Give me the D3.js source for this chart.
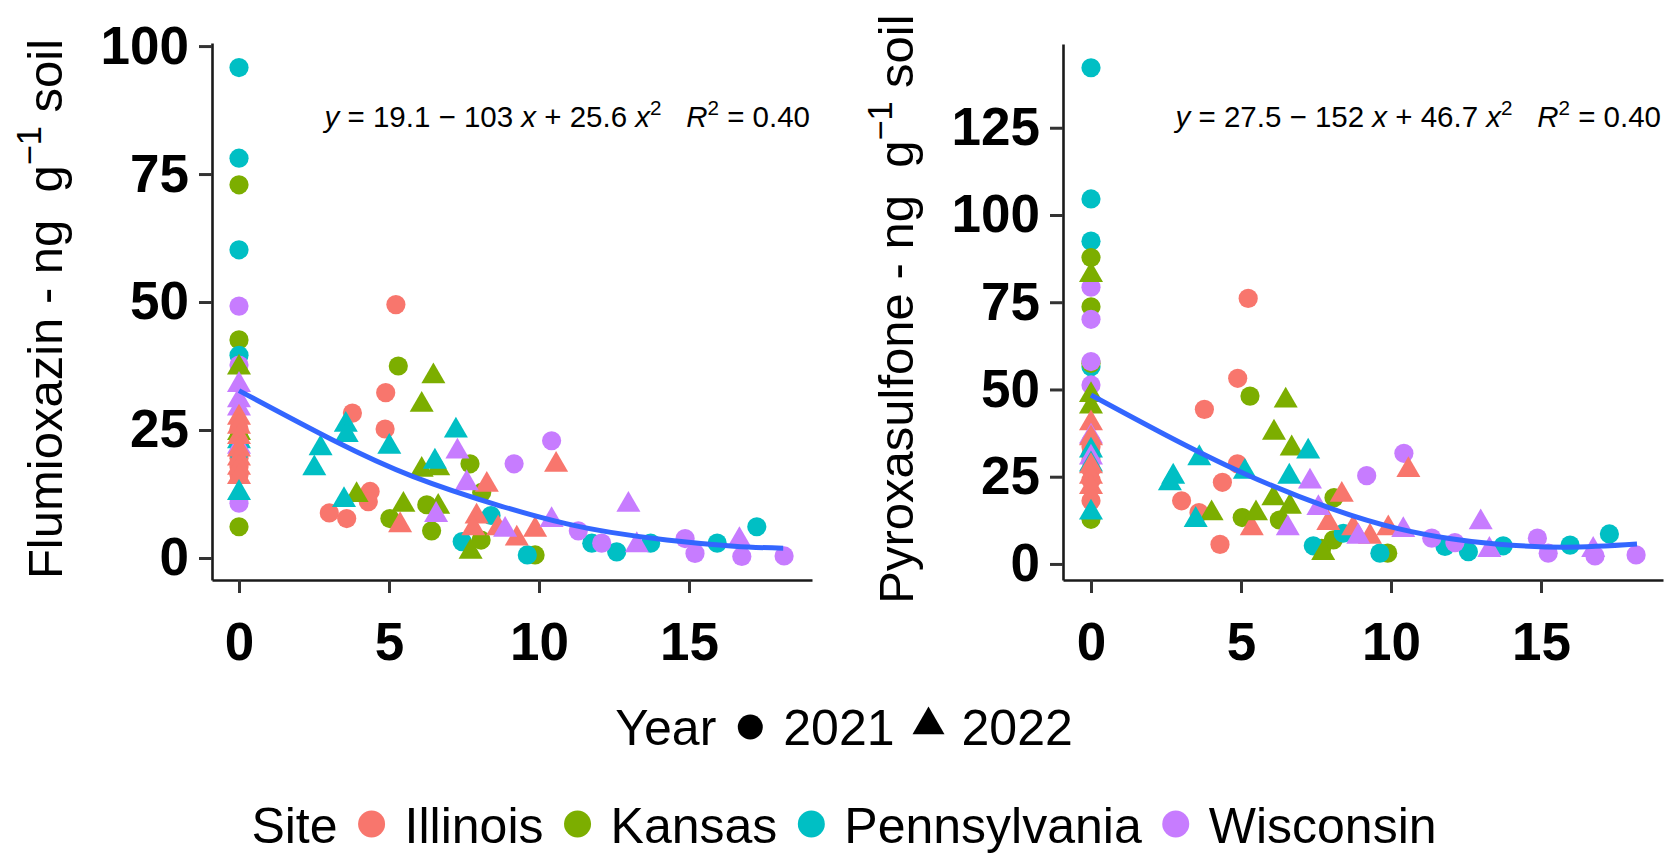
<!DOCTYPE html>
<html>
<head>
<meta charset="utf-8">
<script src="https://cdn.jsdelivr.net/npm/d3@7"></script>
<style>
  body { margin: 0; background: #fff; }
  text { font-family: "Liberation Sans", Arial, Helvetica, sans-serif; }
</style>
</head>
<body>
<svg id="chart" width="1669" height="855"></svg>
<script>
var sites = ["Illinois", "Kansas", "Pennsylvania", "Wisconsin"];
var siteColors = ["#F8766D", "#7CAE00", "#00BFC4", "#C77CFF"];
var years = ["2021", "2022"];
var xTicks = [0, 5, 10, 15];
var flumTicks = [0, 25, 50, 75, 100];
var pyroTicks = [0, 25, 50, 75, 100, 125];

// [site, year, years after application, ng/g]
var flumPoints = [
  ["Pennsylvania",2021,0,95.8],["Pennsylvania",2021,0,78.1],["Kansas",2021,0,72.9],["Pennsylvania",2021,0,60.2],
  ["Wisconsin",2021,0,49.2],["Kansas",2021,0,42.6],["Pennsylvania",2021,0,39.6],["Kansas",2021,0,23.5],
  ["Illinois",2021,0,25.2],["Illinois",2021,0,22.0],["Illinois",2021,0,19.5],["Illinois",2021,0,17.8],
  ["Illinois",2021,0,16.2],["Pennsylvania",2021,0,20.5],["Wisconsin",2021,0,10.7],["Kansas",2021,0,6.1],
  ["Kansas",2022,0,37.2],["Wisconsin",2022,0,33.8],["Wisconsin",2022,0,30.8],["Wisconsin",2022,0,29.2],
  ["Kansas",2022,0,24.4],["Pennsylvania",2022,0,22.8],["Wisconsin",2022,0,21.7],["Illinois",2022,0,27.4],
  ["Illinois",2022,0,25.6],["Illinois",2022,0,23.6],["Illinois",2022,0,21.2],["Illinois",2022,0,19.4],
  ["Illinois",2022,0,17.6],["Illinois",2022,0,15.8],["Pennsylvania",2022,0,12.7],["Wisconsin",2021,0,37.7],
  ["Illinois",2021,5.23,49.5],["Illinois",2021,4.89,32.3],["Illinois",2021,3.78,28.3],["Illinois",2021,4.87,25.2],
  ["Illinois",2021,4.37,13.0],["Illinois",2021,4.31,11.0],["Illinois",2021,3.01,8.8],["Illinois",2021,3.59,7.7],
  ["Illinois",2022,10.57,18.2],["Illinois",2022,8.26,14.3],["Illinois",2022,5.37,6.4],["Illinois",2022,7.92,8.1],
  ["Illinois",2022,7.81,5.8],["Illinois",2022,8.64,5.8],["Illinois",2022,9.26,3.8],["Illinois",2022,9.87,5.5],
  ["Kansas",2021,5.31,37.5],["Kansas",2021,7.7,18.4],["Kansas",2021,8.09,12.8],["Kansas",2021,5.03,7.7],
  ["Kansas",2021,6.26,10.4],["Kansas",2021,6.42,5.3],["Kansas",2021,8.07,3.5],["Kansas",2021,9.87,0.6],
  ["Kansas",2022,6.48,35.5],["Kansas",2022,6.09,29.9],["Kansas",2022,6.09,17.2],["Kansas",2022,6.64,17.5],
  ["Kansas",2022,3.92,12.3],["Kansas",2022,5.48,10.4],["Kansas",2022,6.64,10.0],["Kansas",2022,7.72,1.2],
  ["Pennsylvania",2021,8.4,8.3],["Pennsylvania",2021,7.44,3.2],["Pennsylvania",2021,9.61,0.6],["Pennsylvania",2021,11.76,2.9],
  ["Pennsylvania",2021,12.59,1.2],["Pennsylvania",2021,13.72,2.9],["Pennsylvania",2021,15.94,2.9],["Pennsylvania",2021,17.26,6.1],
  ["Pennsylvania",2022,7.23,24.9],["Pennsylvania",2022,3.56,26.0],["Pennsylvania",2022,3.59,24.0],["Pennsylvania",2022,5.01,21.7],
  ["Pennsylvania",2022,2.72,21.4],["Pennsylvania",2022,2.51,17.5],["Pennsylvania",2022,6.53,18.8],["Pennsylvania",2022,3.5,11.3],
  ["Wisconsin",2021,10.42,22.9],["Wisconsin",2021,9.17,18.4],["Wisconsin",2021,11.31,5.3],["Wisconsin",2021,12.09,2.9],
  ["Wisconsin",2021,14.87,3.8],["Wisconsin",2021,15.2,0.9],["Wisconsin",2021,16.76,0.3],["Wisconsin",2021,18.17,0.4],
  ["Wisconsin",2022,7.28,20.8],["Wisconsin",2022,7.59,14.6],["Wisconsin",2022,6.57,8.4],["Wisconsin",2022,8.87,5.5],
  ["Wisconsin",2022,10.42,7.4],["Wisconsin",2022,12.98,10.4],["Wisconsin",2022,13.26,2.5],["Wisconsin",2022,16.68,3.5]
];

var pyroPoints = [
  ["Pennsylvania",2021,0,142.2],["Pennsylvania",2021,0,104.6],["Pennsylvania",2021,0,92.5],["Kansas",2021,0,87.8],
  ["Kansas",2022,0,82.8],["Wisconsin",2021,0,79.3],["Kansas",2021,0,73.7],["Wisconsin",2021,0,70.1],
  ["Pennsylvania",2021,0,56.5],["Kansas",2021,0,57.5],["Wisconsin",2021,0,58.0],["Wisconsin",2021,0,51.3],
  ["Kansas",2022,0,48.4],["Kansas",2022,0,45.1],["Illinois",2022,0,40.3],["Wisconsin",2022,0,36.5],
  ["Illinois",2022,0,36.0],["Wisconsin",2021,0,35.0],["Illinois",2021,0,33.6],["Pennsylvania",2022,0,32.5],
  ["Illinois",2021,0,31.5],["Pennsylvania",2021,0,31.0],["Wisconsin",2022,0,30.5],["Illinois",2021,0,29.8],
  ["Pennsylvania",2022,0,28.5],["Illinois",2022,0,28.0],["Illinois",2021,0,27.0],["Illinois",2022,0,25.0],
  ["Illinois",2021,0,24.0],["Illinois",2022,0,22.0],["Illinois",2021,0,18.1],["Pennsylvania",2022,0,14.7],
  ["Kansas",2021,0,12.8],
  ["Illinois",2021,5.24,76.1],["Illinois",2021,4.89,53.2],["Illinois",2021,3.78,44.3],["Illinois",2021,4.88,28.7],
  ["Illinois",2021,4.38,23.4],["Illinois",2021,3.02,18.1],["Illinois",2021,3.6,14.7],["Illinois",2021,4.3,5.6],
  ["Illinois",2022,10.58,26.9],["Illinois",2022,8.36,19.8],["Illinois",2022,5.36,10.2],["Illinois",2022,7.91,11.7],
  ["Illinois",2022,8.74,10.2],["Illinois",2022,9.3,7.8],["Illinois",2022,9.91,10.2],
  ["Kansas",2021,5.3,48.1],["Kansas",2021,8.1,19.0],["Kansas",2021,5.04,13.3],["Kansas",2021,6.28,12.6],
  ["Kansas",2021,8.08,6.9],["Kansas",2021,7.69,4.5],["Kansas",2021,9.89,3.1],
  ["Kansas",2022,6.49,46.8],["Kansas",2022,6.1,37.6],["Kansas",2022,6.69,33.1],["Kansas",2022,6.08,18.8],
  ["Kansas",2022,6.63,16.4],["Kansas",2022,4.02,14.5],["Kansas",2022,5.5,14.5],["Kansas",2022,7.74,3.1],
  ["Pennsylvania",2021,8.41,8.8],["Pennsylvania",2021,7.41,5.2],["Pennsylvania",2021,9.63,3.1],["Pennsylvania",2021,11.8,5.0],
  ["Pennsylvania",2021,12.58,3.5],["Pennsylvania",2021,13.74,5.2],["Pennsylvania",2021,15.97,5.4],["Pennsylvania",2021,17.28,8.6],
  ["Pennsylvania",2022,7.24,32.2],["Pennsylvania",2022,3.61,30.3],["Pennsylvania",2022,5.13,26.4],["Pennsylvania",2022,2.74,25.0],
  ["Pennsylvania",2022,6.61,25.0],["Pennsylvania",2022,2.63,23.1],["Pennsylvania",2022,3.49,12.6],
  ["Wisconsin",2021,10.43,31.7],["Wisconsin",2021,9.19,25.3],["Wisconsin",2021,11.36,7.4],["Wisconsin",2021,12.13,6.1],
  ["Wisconsin",2021,14.88,7.4],["Wisconsin",2021,15.24,3.1],["Wisconsin",2021,16.8,2.3],["Wisconsin",2021,18.17,2.6],
  ["Wisconsin",2022,7.3,23.6],["Wisconsin",2022,7.58,16.0],["Wisconsin",2022,6.56,10.2],["Wisconsin",2022,8.91,7.8],
  ["Wisconsin",2022,10.41,9.7],["Wisconsin",2022,12.99,11.9],["Wisconsin",2022,13.28,4.0],["Wisconsin",2022,16.74,4.0]
];

// fitted curve
var flumFit = [[0,32.7],[3.14,23.0],[5.81,15.9],[8.7,10.2],[10.9,6.7],[12.4,5.0],[14.26,3.5],[16.5,2.3],[18.14,1.9]];
var pyroFit = [[0,48.4],[2.41,37.3],[5.08,26.0],[7.97,16.0],[10.2,10.2],[12.0,7.2],[13.5,5.7],[15.8,4.8],[18.2,5.7]];

var flumEq = [["y",1],[" = 19.1 \u2212 103 ",0],["x",1],[" + 25.6 ",0],["x",1],["2",2],["   ",0],["R",1],["2",2],[" = 0.40",0]];
var pyroEq = [["y",1],[" = 27.5 \u2212 152 ",0],["x",1],[" + 46.7 ",0],["x",1],["2",2],["   ",0],["R",1],["2",2],[" = 0.40",0]];

var svg = d3.select("#chart");
var color = d3.scaleOrdinal().domain(sites).range(siteColors);

// rich text with italics (1) and superscripts (2)
function richText(sel, parts, size) {
  var raised = false;
  parts.forEach(function(p) {
    var ts = sel.append("tspan").text(p[0]);
    if (p[1] === 1) ts.attr("font-style", "italic");
    if (p[1] === 2) {
      ts.attr("font-size", size * 0.7).attr("dy", -size * 0.42);
      raised = true;
    } else if (raised) {
      ts.attr("dy", size * 0.42);
      raised = false;
    }
  });
}

function drawPanel(opts) {
  var x = d3.scaleLinear().domain(opts.xDomain).range(opts.xRange);
  var y = d3.scaleLinear().domain(opts.yDomain).range([580, opts.top]);
  var g = svg.append("g");

  var xAxis = g.append("g").attr("transform", "translate(0,580)")
    .call(d3.axisBottom(x).tickValues(xTicks).tickSize(13).tickSizeOuter(0).tickPadding(29));
  var yAxis = g.append("g").attr("transform", "translate(" + opts.xRange[0] + ",0)")
    .call(d3.axisLeft(y).tickValues(opts.yTicks).tickSize(13).tickSizeOuter(0).tickPadding(10));

  [xAxis, yAxis].forEach(function(a) {
    a.select(".domain").attr("stroke", "#1a1a1a").attr("stroke-width", 2.6);
    a.selectAll(".tick line").attr("stroke", "#333").attr("stroke-width", 3);
    a.selectAll(".tick text").attr("fill", "#000").attr("font-size", 53).attr("font-weight", "bold")
      .attr("font-family", "'Liberation Sans', Arial, sans-serif");
  });

  var pts = g.append("g");
  pts.selectAll("circle").data(opts.points.filter(function(d) { return d[1] === 2021; }))
    .enter().append("circle")
    .attr("cx", function(d) { return x(d[2]); })
    .attr("cy", function(d) { return y(d[3]); })
    .attr("r", 9.6)
    .attr("fill", function(d) { return color(d[0]); });
  pts.selectAll("path").data(opts.points.filter(function(d) { return d[1] === 2022; }))
    .enter().append("path")
    .attr("d", d3.symbol(d3.symbolTriangle, 250))
    .attr("transform", function(d) { return "translate(" + x(d[2]) + "," + y(d[3]) + ")"; })
    .attr("fill", function(d) { return color(d[0]); });

  g.append("path").datum(opts.fit)
    .attr("fill", "none").attr("stroke", "#3366FF").attr("stroke-width", 5)
    .attr("d", d3.line().curve(d3.curveNatural)
      .x(function(d) { return x(d[0]); })
      .y(function(d) { return y(d[1]); }));

  var eq = g.append("text").attr("x", opts.xRange[1] - 2).attr("y", opts.eqY)
    .attr("text-anchor", "end").attr("font-size", 29.5).attr("fill", "#000")
    .attr("xml:space", "preserve").style("white-space", "pre");
  richText(eq, opts.eq, 29.5);

  var title = g.append("text")
    .attr("transform", "translate(" + opts.titleX + ",309) rotate(-90)")
    .attr("text-anchor", "middle").attr("font-size", 49).attr("fill", "#000")
    .attr("xml:space", "preserve").style("white-space", "pre");
  richText(title, [[opts.name + " - ng  g", 0], ["\u22121", 2], [" soil", 0]], 49);
}

drawPanel({
  name: "Flumioxazin", points: flumPoints, fit: flumFit, eq: flumEq, eqY: 127,
  xDomain: [-0.9, 19.1], xRange: [212, 812],
  yDomain: [-4.3, 100.6], yTicks: flumTicks, top: 43, titleX: 62
});
drawPanel({
  name: "Pyroxasulfone", points: pyroPoints, fit: pyroFit, eq: pyroEq, eqY: 127,
  xDomain: [-0.933, 19.067], xRange: [1063, 1663],
  yDomain: [-4.6, 149], yTicks: pyroTicks, top: 44, titleX: 913
});

// legends
function legendRow(title, entries, baseline, cx) {
  var row = svg.append("g");
  var cur = 0;
  var t = row.append("text").attr("x", cur).attr("y", baseline).attr("font-size", 50).text(title);
  cur += t.node().getComputedTextLength();
  entries.forEach(function(e) {
    cur += 34;
    e.key(row, cur);
    cur += 33;
    var lt = row.append("text").attr("x", cur).attr("y", baseline).attr("font-size", 50).text(e.label);
    cur += lt.node().getComputedTextLength();
  });
  row.attr("transform", "translate(" + (cx - cur / 2) + ",0)");
}

legendRow("Year", [
  { label: years[0], key: function(r, kx) { r.append("circle").attr("cx", kx).attr("cy", 727).attr("r", 12.5).attr("fill", "#000"); } },
  { label: years[1], key: function(r, kx) {
      r.append("path").attr("d", d3.symbol(d3.symbolTriangle, 443)).attr("transform", "translate(" + kx + ",725)").attr("fill", "#000"); } }
], 745, 844);

legendRow("Site", sites.map(function(s) {
  return { label: s, key: function(r, kx) { r.append("circle").attr("cx", kx).attr("cy", 824).attr("r", 13.5).attr("fill", color(s)); } };
}), 843, 844);
</script>
</body>
</html>
